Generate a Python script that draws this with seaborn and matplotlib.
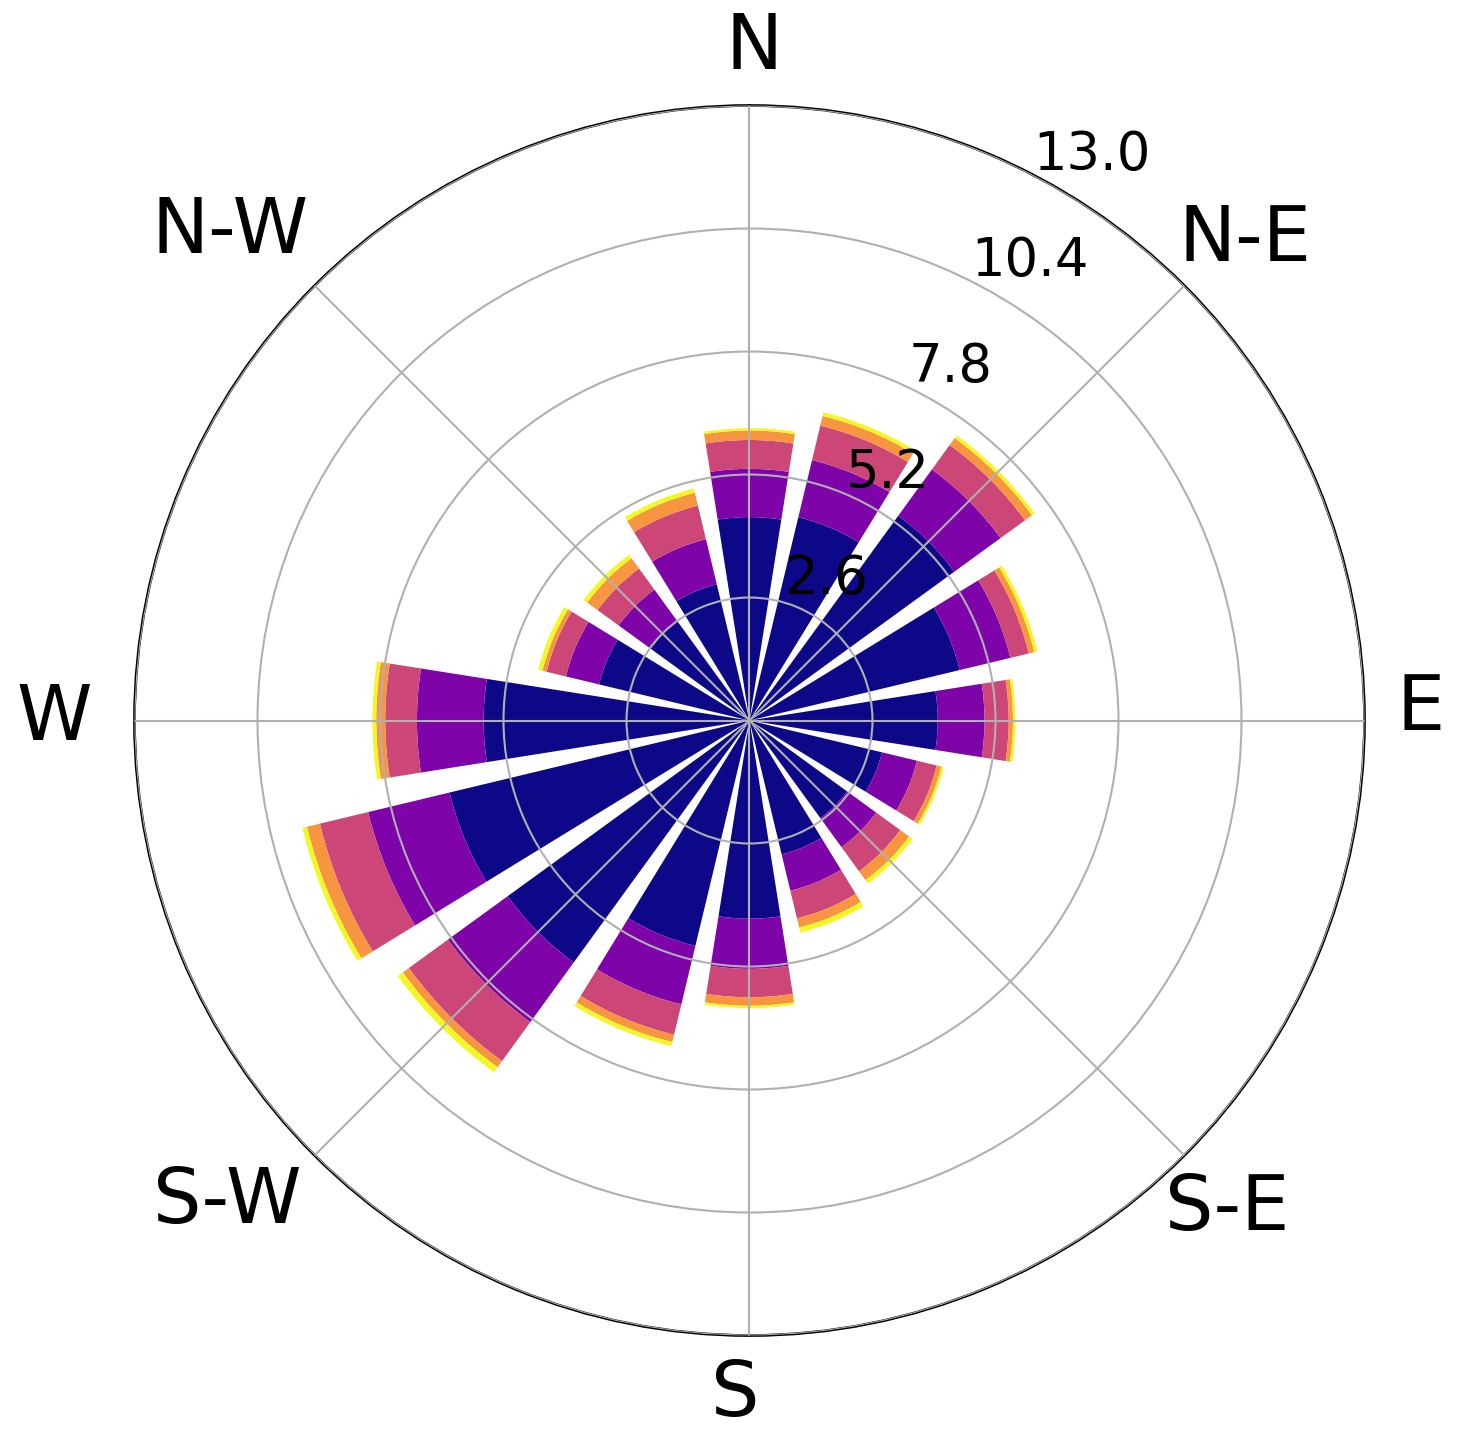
import numpy as np
import matplotlib
matplotlib.use("Agg")
import matplotlib.pyplot as plt
import matplotlib.transforms as mtransforms
import seaborn as sns

sns.set_style("white")
plt.rcParams["font.family"] = ["DejaVu Sans"]
plt.rcParams["text.color"] = "black"

# 16 sectors, clockwise from north
directions = ["N", "NNE", "NE", "ENE", "E", "ESE", "SE", "SSE",
              "S", "SSW", "SW", "WSW", "W", "WNW", "NW", "NNW"]

# frequency (%) per speed bin, stacked
speed_bin_1 = [4.30, 4.42, 5.35, 4.57, 3.98, 2.88, 2.55, 2.91,
               4.19, 4.90, 6.32, 6.52, 5.62, 3.27, 2.62, 2.96]
speed_bin_2 = [1.02, 1.24, 1.21, 1.10, 0.99, 0.76, 0.76, 0.79,
               1.06, 1.27, 1.56, 1.77, 1.41, 0.72, 0.80, 0.98]
speed_bin_3 = [0.61, 0.75, 0.64, 0.40, 0.51, 0.43, 0.63, 0.60,
               0.60, 0.66, 1.02, 1.05, 0.67, 0.42, 0.55, 0.73]
speed_bin_4 = [0.20, 0.21, 0.18, 0.12, 0.09, 0.10, 0.23, 0.20,
               0.18, 0.16, 0.16, 0.28, 0.19, 0.09, 0.27, 0.28]
speed_bin_5 = [0.05, 0.08, 0.07, 0.07, 0.05, 0.05, 0.09, 0.11,
               0.05, 0.09, 0.13, 0.10, 0.08, 0.09, 0.09, 0.09]

radial_ticks = [2.6, 5.2, 7.8, 10.4, 13.0]
compass_labels = ["N", "N-E", "E", "S-E", "S", "S-W", "W", "N-W"]

bins = [speed_bin_1, speed_bin_2, speed_bin_3, speed_bin_4, speed_bin_5]
colors = sns.color_palette("plasma", as_cmap=True)(np.linspace(0, 1, len(bins)))

W_PX, H_PX = 1460, 1434
fig = plt.figure(figsize=(W_PX / 100, H_PX / 100), dpi=100)
ax = fig.add_axes([0.0921, 0.0687, 0.8425, 0.8577], projection="polar")
ax.set_theta_zero_location("N")
ax.set_theta_direction(-1)

theta = np.deg2rad(np.arange(len(directions)) * 360 / len(directions))
width = np.deg2rad(360 / len(directions) * 0.8)
bottom = np.zeros(len(directions))
for vals, c in zip(bins, colors):
    ax.bar(theta, vals, width=width, bottom=bottom, color=c, edgecolor="none")
    bottom += np.array(vals)

ax.set_axisbelow(False)
ax.set_thetagrids(np.arange(0, 360, 45), labels=[""] * 8)
ax.set_rgrids(radial_ticks, labels=[""] * len(radial_ticks))
ax.set_ylim(0, 13.0)
ax.grid(True, color="#b0b0b0", linewidth=1.5)
ax.tick_params(axis="both", length=0)
ax.spines["polar"].set_color("black")
ax.spines["polar"].set_linewidth(2)

# radial tick labels
rlabel_tr = mtransforms.offset_copy(ax.transData, fig=fig, x=-28, y=10, units="dots")
for r in radial_ticks:
    ax.text(np.deg2rad(30.5), r, f"{r:.1f}", transform=rlabel_tr,
            ha="left", va="bottom", fontsize=38, clip_on=False)

# compass labels (pixel centres around the rose)
label_pos = [(754, 48), (1245, 240), (1421, 709), (1227, 1209),
             (735, 1395), (227, 1202), (54, 719), (230, 232)]
for lab, (px, py) in zip(compass_labels, label_pos):
    fig.text(px / W_PX, 1 - py / H_PX, lab, ha="center", va="center", fontsize=55)

fig.savefig("out.png", dpi=100)
